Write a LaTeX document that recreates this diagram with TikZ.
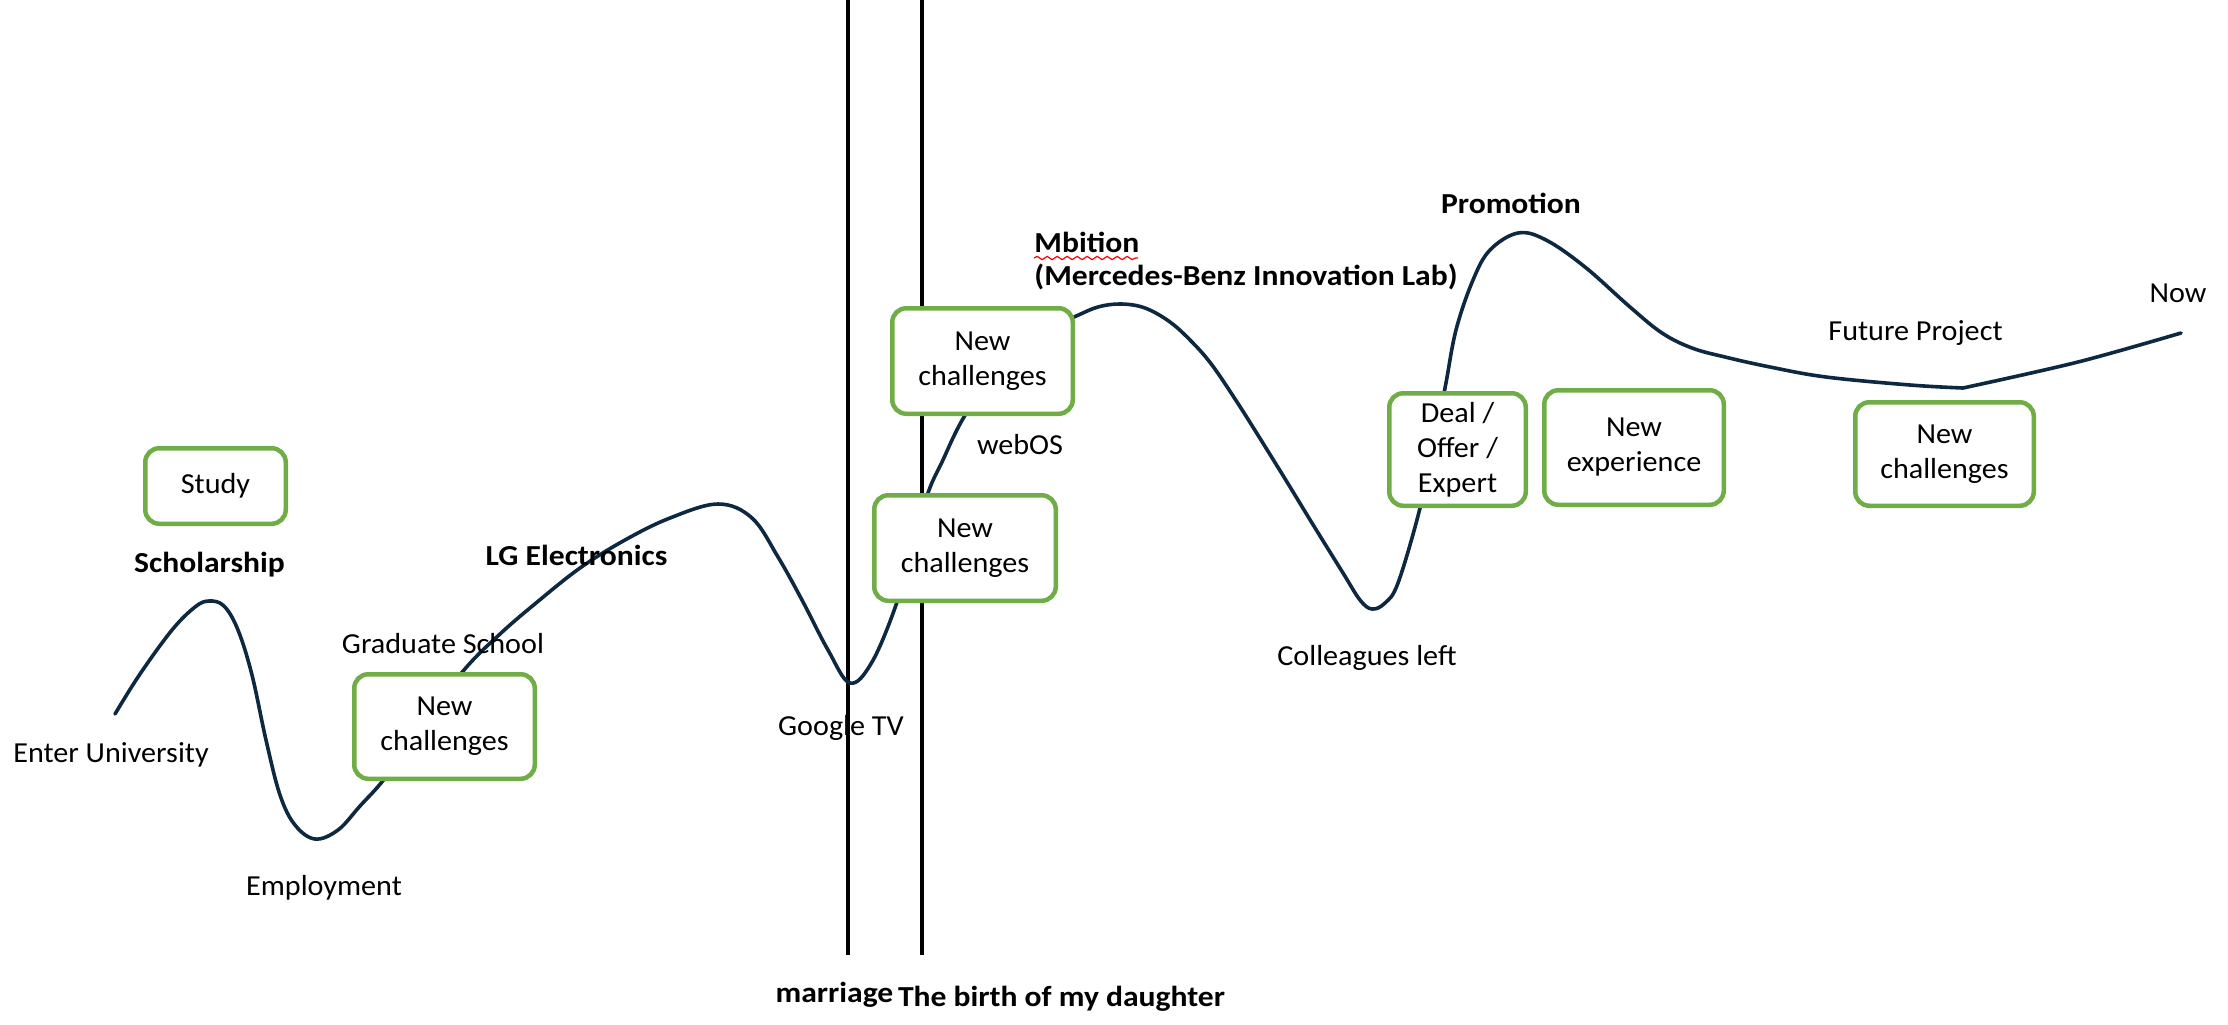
\documentclass[tikz,border=0pt]{standalone}
\usepackage{fontspec}
\setmainfont{Carlito}[FakeStretch=1.04]
\newfontfamily\bfcar{Carlito}[FakeStretch=1.09]
\usetikzlibrary{decorations.pathmorphing}
\definecolor{boxgreen}{HTML}{70AD47}
\definecolor{curvenavy}{HTML}{0E2841}
\tikzset{
  x=0.5pt, y=-0.5pt,
  lifebox/.style={draw=boxgreen, line width=2.25pt, rounded corners=7pt, fill=white,
    inner sep=0pt, align=center, font=\fontsize{14.5}{17.5}\selectfont},
  lbl/.style={inner sep=0pt, anchor=base, font=\fontsize{14.5}{17.5}\selectfont},
  blbl/.style={inner sep=0pt, anchor=base, font=\fontsize{14.5}{17.5}\bfcar\bfseries},
  curve/.style={draw=curvenavy, line width=1.8pt, line cap=round, line join=round},
  vline/.style={draw=black, line width=2pt},
}
\begin{document}
\begin{tikzpicture}
\useasboundingbox (0,0) rectangle (2228,1024);
% vertical event lines
\coordinate (m top) at (848,0);
\coordinate (m bot) at (848,955);
\coordinate (d top) at (922,0);
\coordinate (d bot) at (922,955);
\draw[vline] (m top) -- (m bot);
\draw[vline] (d top) -- (d bot);
% life curve
\draw[curve] plot[smooth, tension=0.6] coordinates {(115,714) (140,674) (172,630) (195,607) (209,601) (224,606) (238,630) (252,675) (266,740) (280,795) (295,825) (315,839) (338,830) (360,806) (385,778) (420,728) (464,670) (500,634) (536,603) (580,568) (625,540) (670,518) (718,504) (752,518) (778,557) (802,600) (828,650) (850,683) (872,662) (896,605) (912,548) (928,493) (942,462) (964,417) (1000,365) (1040,332) (1074,317) (1098,307) (1121,304) (1145,308) (1170,322) (1192,342) (1212,365) (1237,402) (1261,440) (1287,482) (1312,523) (1343,573) (1360,600) (1372,609) (1385,603) (1398,583) (1419,512) (1432,450) (1445,388) (1456,330) (1473,280) (1490,250) (1518,233) (1546,240) (1585,267) (1630,307) (1662,333) (1692,348) (1725,357) (1770,367) (1826,377) (1910,385) (1963,388)};
\draw[curve] plot[smooth, tension=0.55] coordinates {(1963,388) (2078,362) (2181,333)};
% boxes
\node[lifebox, minimum width=70.25pt, minimum height=37.75pt] (study) at (215.5,486) {Study};
\node[lifebox, minimum width=90.25pt, minimum height=52.25pt] (nc1) at (444.5,726.5) {New\\challenges};
\node[lifebox, minimum width=90.75pt, minimum height=52.75pt] (nc2) at (965,548) {New\\challenges};
\node[lifebox, minimum width=90.25pt, minimum height=52.75pt] (nc3) at (982.5,361) {New\\challenges};
\node[lifebox, minimum width=68.25pt, minimum height=56.25pt] (deal) at (1457.5,449.5) {Deal /\\Offer /\\Expert};
\node[lifebox, minimum width=89.75pt, minimum height=57.25pt] (newexp) at (1634,447.5) {New\\experience};
\node[lifebox, minimum width=89.25pt, minimum height=51.75pt] (nc4) at (1944.5,454) {New\\challenges};
% labels
\node[lbl] (enter) at (111,762) {Enter University};
\node[blbl] (schol) at (209.5,572) {Scholarship};
\node[lbl] (grad) at (443,653) {Graduate School};
\node[blbl] (lg) at (576.5,565) {LG Electronics};
\node[lbl] (employ) at (324,895) {Employment};
\node[lbl] (gtv) at (841,735) {Google TV};
\node[lbl] (webos) at (1020,454) {webOS};
\node[blbl, anchor=base west] (mbition) at (1034,252) {Mbition};
\node[blbl, anchor=base west] (mblab) at (1034,285) {(Mercedes-Benz Innovation Lab)};
\node[lbl] (colleagues) at (1367,665) {Colleagues left};
\node[blbl] (promo) at (1511,213) {Promotion};
\node[lbl] (future) at (1915.5,340) {Future Project};
\node[lbl] (now) at (2178,302) {Now};
\node[blbl] (marriage) at (834.5,1002) {marriage};
\node[blbl] (birth) at (1061.5,1006) {The birth of my daughter};
% spell-check underline
\coordinate (wavy l) at (1034,258);
\coordinate (wavy r) at (1138,258);
\draw[red, line width=0.6pt, decorate, decoration={snake, amplitude=0.8pt, segment length=5pt}] (wavy l) -- (wavy r);
\end{tikzpicture}
\end{document}
